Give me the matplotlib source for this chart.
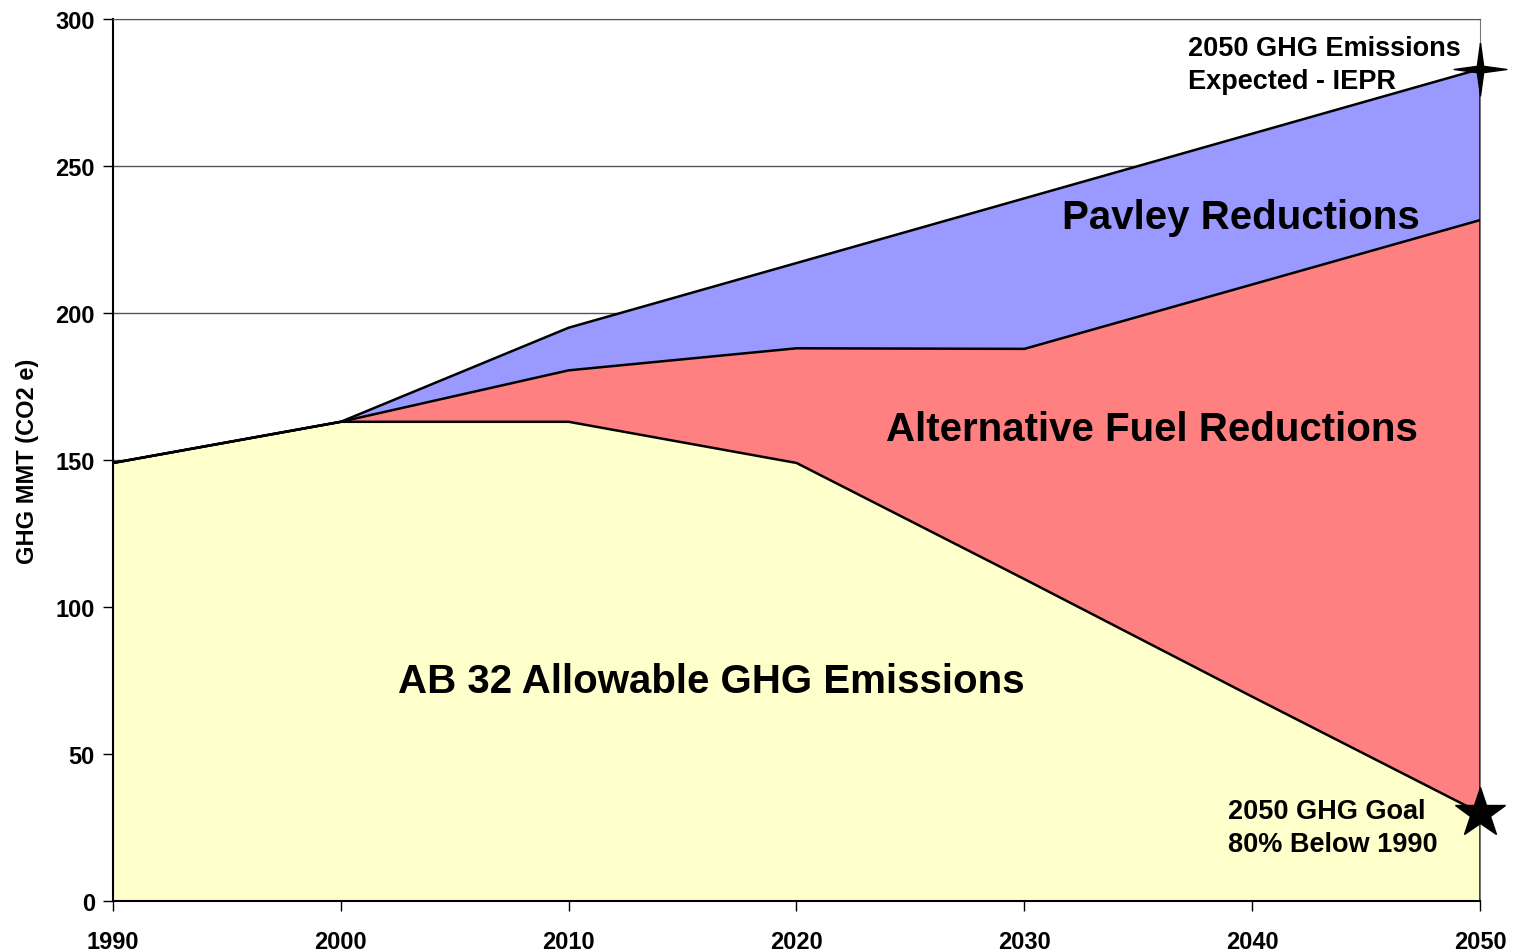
import matplotlib.pyplot as plt
from matplotlib.path import Path

years = [1990, 2000, 2010, 2020, 2030, 2040, 2050]
ab32 = [149, 163, 163, 149, 109.5, 69.5, 30]
alt_fuel_top = [149, 163, 180.5, 188, 187.8, 209.7, 231.6]
pavley_top = [149, 163, 195, 217, 239, 261, 283]

y_ticks = [0, 50, 100, 150, 200, 250, 300]

plt.rcParams['font.family'] = ['Liberation Sans', 'DejaVu Sans']
plt.rcParams['font.weight'] = 'bold'

fig = plt.figure(figsize=(15.18, 9.53), dpi=100)
ax = fig.add_axes([0.0744, 0.0535, 0.9006, 0.9255])

# grid behind the stacked areas
for v in y_ticks[1:]:
    ax.axhline(v, color='#555555', lw=1.0, zorder=0)

ax.fill_between(years, 0, ab32, color='#FFFFCC', lw=0, zorder=1)
ax.fill_between(years, ab32, alt_fuel_top, color='#FF8080', lw=0, zorder=1)
ax.fill_between(years, alt_fuel_top, pavley_top, color='#9999FF', lw=0, zorder=1)
for s in (ab32, alt_fuel_top, pavley_top):
    ax.plot(years, s, color='black', lw=1.8, zorder=2)
ax.plot([2050, 2050], [0, pavley_top[-1]], color='black', lw=1.8, zorder=2)

# four-point star marker for the IEPR expectation
star4 = Path([(0, 1), (0.12, 0.12), (1, 0), (0.12, -0.12), (0, -1),
              (-0.12, -0.12), (-1, 0), (-0.12, 0.12), (0, 1)])
ax.plot(2050, pavley_top[-1], marker=star4, ms=38, color='black', zorder=5, clip_on=False)
ax.plot(2050, ab32[-1], marker='*', ms=38, color='black', zorder=5, clip_on=False)

ax.set_xlim(1990, 2050)
ax.set_ylim(0, 300)
ax.set_xticks(years)
ax.set_yticks(y_ticks)
ax.tick_params(axis='both', direction='out', length=7, width=1, labelsize=17)
ax.tick_params(axis='x', pad=14)
ax.tick_params(axis='y', pad=6)
for lbl in ax.get_xticklabels() + ax.get_yticklabels():
    lbl.set_fontweight('bold')

ax.spines['left'].set_linewidth(1.5)
ax.spines['bottom'].set_linewidth(1.5)
ax.spines['top'].set_color('#555555')
ax.spines['right'].set_color('#777777')

ax.set_ylabel('GHG MMT (CO2 e)', fontsize=17, fontweight='bold', labelpad=12)

ax.text(2016.25, 75, 'AB 32 Allowable GHG Emissions', fontsize=29, fontweight='bold', ha='center', va='center')
ax.text(2035.6, 160.5, 'Alternative Fuel Reductions', fontsize=29, fontweight='bold', ha='center', va='center')
ax.text(2039.5, 232.5, 'Pavley Reductions', fontsize=29, fontweight='bold', ha='center', va='center')
ax.text(2037.2, 284.5, '2050 GHG Emissions\nExpected - IEPR', fontsize=19.5, fontweight='bold',
        ha='left', va='center', linespacing=1.35)
ax.text(2038.95, 25, '2050 GHG Goal\n80% Below 1990', fontsize=19.5, fontweight='bold',
        ha='left', va='center', linespacing=1.35)

fig.savefig('out.png', dpi=100)
